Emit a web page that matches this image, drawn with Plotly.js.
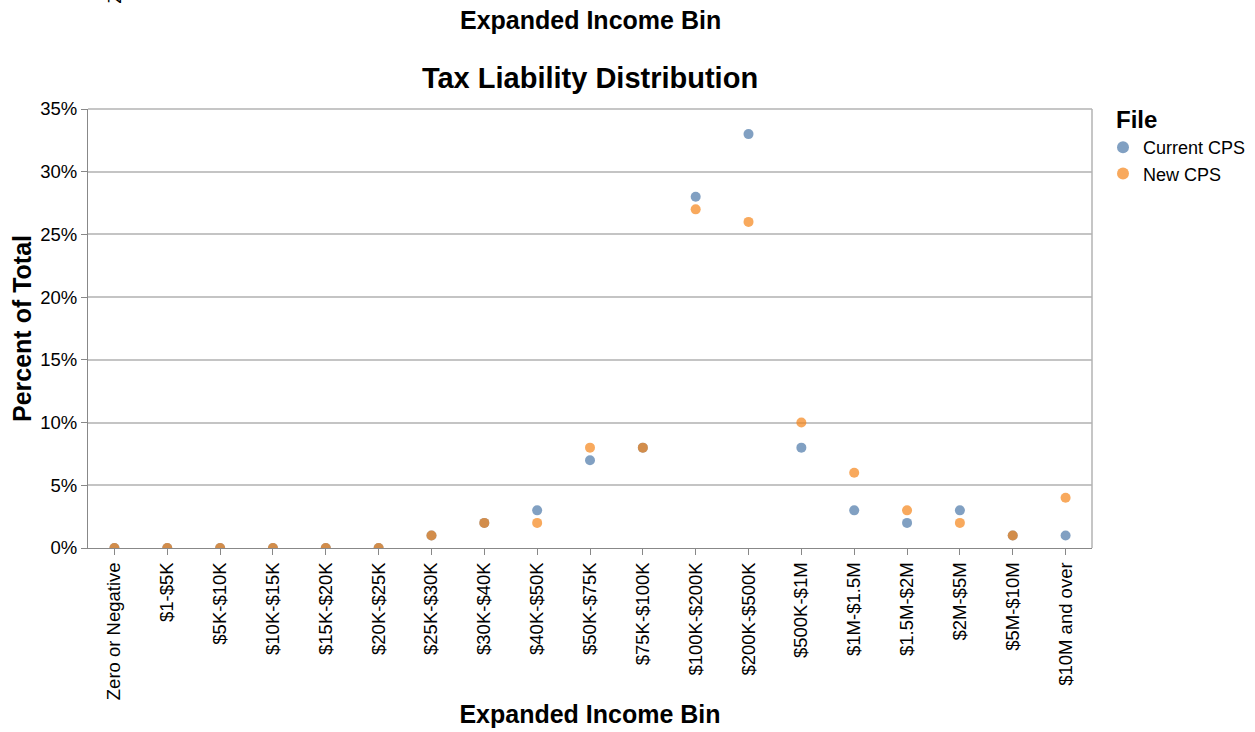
<!DOCTYPE html>
<html>
<head>
<meta charset="utf-8">
<script src="https://cdn.plot.ly/plotly-3.0.1.min.js"></script>
<style>html,body{margin:0;padding:0;background:#fff;}#chart{width:1255px;height:732px;}</style>
</head>
<body>
<div id="chart"></div>
<script>
const incomeBins = ["Zero or Negative","$1-$5K","$5K-$10K","$10K-$15K","$15K-$20K","$20K-$25K","$25K-$30K","$30K-$40K","$40K-$50K","$50K-$75K","$75K-$100K","$100K-$200K","$200K-$500K","$500K-$1M","$1M-$1.5M","$1.5M-$2M","$2M-$5M","$5M-$10M","$10M and over"];
const currentCPS = [0,0,0,0,0,0,1,2,3,7,8,28,33,8,3,2,3,1,1];
const newCPS     = [0,0,0,0,0,0,1,2,2,8,8,27,26,10,6,3,2,1,4];
const seriesNames = ["Current CPS","New CPS"];
const yTicks = [0,5,10,15,20,25,30,35];

const FONT = "Liberation Sans, Arial, sans-serif";
const plotLeft = 88, plotRight = 1092, plotW = plotRight - plotLeft;
const plotTop = 109, plotBottom = 548, plotH = plotBottom - plotTop;
const pxToPaperY = p => (plotBottom - p) / plotH;
const pxToPaperX = p => (p - plotLeft) / plotW;

const traces = [
  {type:"scatter", mode:"markers", name:seriesNames[0], x:incomeBins, y:currentCPS,
   marker:{color:"#4c78a8", size:10, opacity:0.7, line:{width:0}},
   hovertemplate:"%{x}: %{y}%<extra>Current CPS</extra>"},
  {type:"scatter", mode:"markers", name:seriesNames[1], x:incomeBins, y:newCPS,
   marker:{color:"#f58518", size:10, opacity:0.7, line:{width:0}},
   hovertemplate:"%{x}: %{y}%<extra>New CPS</extra>"}
];

const layout = {
  width:1255, height:732,
  margin:{l:plotLeft, r:1255-plotRight, t:plotTop, b:732-plotBottom, pad:0, autoexpand:false},
  paper_bgcolor:"#fff", plot_bgcolor:"#fff",
  font:{family:FONT, color:"#222"},
  title:{text:"<b>Tax Liability Distribution</b>", font:{size:29, color:"#000", family:FONT},
         x:0.5, xref:"paper", xanchor:"center", y:1-78/732, yref:"container", yanchor:"middle"},
  xaxis:{type:"category", categoryorder:"array", categoryarray:incomeBins,
         range:[-0.5, incomeBins.length-0.5],
         showgrid:false, zeroline:false,
         showline:true, linecolor:"#888", linewidth:1, mirror:false,
         ticks:"outside", ticklen:6, tickcolor:"#888", tickwidth:1,
         tickangle:-90, tickfont:{size:18.5, color:"#000", family:FONT},
         title:{text:"<b>Expanded Income Bin</b>", font:{size:25, color:"#000", family:FONT}, standoff:6}},
  yaxis:{range:[0,35], tickvals:yTicks, ticktext:yTicks.map(v=>v+"%"),
         showgrid:true, gridcolor:"#c4c4c4", gridwidth:1.5, zeroline:false,
         showline:true, linecolor:"#888", linewidth:1,
         ticks:"outside", ticklen:6, tickcolor:"#888", tickwidth:1,
         tickfont:{size:18.5, color:"#000", family:FONT},
         title:{text:"<b>Percent of Total</b>", font:{size:25, color:"#000", family:FONT}, standoff:1}},
  legend:{x:pxToPaperX(1103), xanchor:"left", y:pxToPaperY(129), yanchor:"top",
          font:{size:18, color:"#000", family:FONT}, tracegroupgap:0, itemwidth:30,
          itemsizing:"constant", bgcolor:"rgba(0,0,0,0)"},
  shapes:[
    {type:"line", xref:"paper", yref:"paper", x0:0, x1:1, y0:1, y1:1, line:{color:"#b3b3b3", width:1.5}},
    {type:"line", xref:"paper", yref:"paper", x0:1, x1:1, y0:0, y1:1, line:{color:"#b3b3b3", width:1.5}}
  ],
  annotations:[
    {text:"<b>File</b>", xref:"paper", yref:"paper", x:pxToPaperX(1114), y:pxToPaperY(120),
     xanchor:"left", yanchor:"middle", showarrow:false, font:{size:24, color:"#000", family:FONT}},
    {text:"<b>Expanded Income Bin</b>", xref:"paper", yref:"paper", x:0.5, y:pxToPaperY(20),
     xanchor:"center", yanchor:"middle", showarrow:false, font:{size:25, color:"#000", family:FONT}},
    {text:incomeBins[0], xref:"x", yref:"paper", x:incomeBins[0], y:pxToPaperY(5),
     xanchor:"center", yanchor:"bottom", textangle:-90, showarrow:false,
     font:{size:18.5, color:"#000", family:FONT}}
  ],
  hovermode:"closest"
};

Plotly.newPlot("chart", traces, layout, {displayModeBar:false, responsive:false});
</script>
</body>
</html>
